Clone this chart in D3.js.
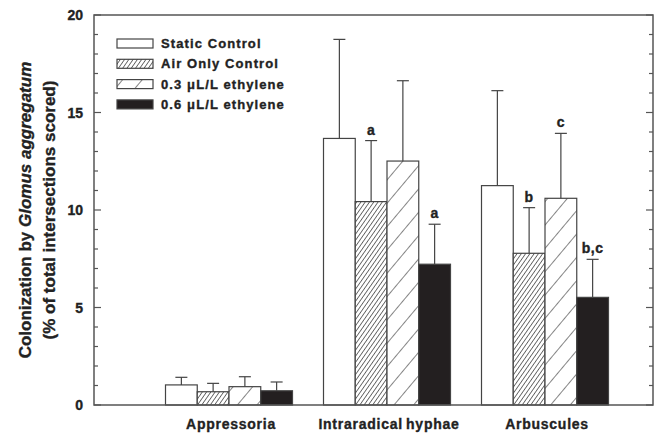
<!DOCTYPE html>
<html><head><meta charset="utf-8">
<script src="https://cdn.jsdelivr.net/npm/d3@7/dist/d3.min.js"></script>
<style>body{margin:0;background:#fff;} text{font-family:"Liberation Sans",Arial,sans-serif;font-weight:bold;fill:#222;stroke:#222;stroke-width:0.35px;}</style>
</head><body><svg id="c" width="656" height="434"></svg>
<script>
const categories = ["Appressoria", "Intraradical hyphae", "Arbuscules"];
const series = ["Static Control", "Air Only Control", "0.3 \u03bcL/L ethylene", "0.6 \u03bcL/L ethylene"];
const means = [
  [1.03, 0.68, 0.94, 0.73],
  [13.67, 10.43, 12.51, 7.22],
  [11.25, 7.78, 10.60, 5.52]
];
const errors = [
  [0.39, 0.43, 0.51, 0.45],
  [5.08, 3.13, 4.12, 2.05],
  [4.87, 2.34, 3.33, 1.95]
];
const letters = [
  ["", "", "", ""],
  ["", "a", "", "a"],
  ["", "b", "c", "b,c"]
];
const yTicks = [0, 5, 10, 15, 20];

const svg = d3.select("#c");
const L = 94, T = 15, R = 653, B = 405;
const W = R - L, H = B - T;
const g = svg.append("g").attr("transform", `translate(${L},${T})`);
const y = d3.scaleLinear().domain([0, 20]).range([H, 0]);
const x = d3.scalePoint().domain(categories).range([135, 451]);
const xb = d3.scaleBand().domain(series).range([-63.5, 63.5]);

const defs = svg.append("defs");
const p1 = defs.append("pattern").attr("id", "dense").attr("patternUnits", "userSpaceOnUse")
  .attr("width", 3.5).attr("height", 3.5).attr("patternTransform", "rotate(35)");
p1.append("rect").attr("width", 3.5).attr("height", 3.5).attr("fill", "#fff");
p1.append("line").attr("x1", 0).attr("y1", 0).attr("x2", 0).attr("y2", 3.5).attr("stroke", "#444").attr("stroke-width", 1.5);
const p2 = defs.append("pattern").attr("id", "sparse").attr("patternUnits", "userSpaceOnUse")
  .attr("width", 15).attr("height", 15).attr("patternTransform", "rotate(40)");
p2.append("rect").attr("width", 15).attr("height", 15).attr("fill", "#fff");
p2.append("line").attr("x1", 0).attr("y1", 0).attr("x2", 0).attr("y2", 15).attr("stroke", "#333").attr("stroke-width", 1.2);
const fills = ["#fff", "url(#dense)", "url(#sparse)", "#231f20"];

// y ticks left (inward) and right (inward)
const minor = d3.range(0, 21, 1);
minor.forEach(v => {
  const len = v % 5 === 0 ? 7 : 4;
  g.append("line").attr("x1", 0).attr("x2", len).attr("y1", y(v)).attr("y2", y(v)).attr("stroke", "#555").attr("stroke-width", 1.2);
  g.append("line").attr("x1", W).attr("x2", W - len).attr("y1", y(v)).attr("y2", y(v)).attr("stroke", "#555").attr("stroke-width", 1.2);
});
yTicks.forEach(v => {
  g.append("text").attr("x", -11).attr("y", y(v)).attr("dy", "0.36em").attr("text-anchor", "end")
    .attr("font-size", 14).text(v);
});

// bars
categories.forEach((c, ci) => {
  series.forEach((s, si) => {
    const bx = x(c) + xb(s);
    g.append("rect").attr("x", bx).attr("y", y(means[ci][si])).attr("width", xb.bandwidth())
      .attr("height", y(0) - y(means[ci][si])).attr("fill", fills[si]).attr("stroke", "#444").attr("stroke-width", 1.2);
    const cx = bx + xb.bandwidth() / 2;
    const top = means[ci][si] + errors[ci][si];
    g.append("line").attr("x1", cx).attr("x2", cx).attr("y1", y(means[ci][si])).attr("y2", y(top)).attr("stroke", "#444").attr("stroke-width", 1.2);
    g.append("line").attr("x1", cx - 6).attr("x2", cx + 6).attr("y1", y(top)).attr("y2", y(top)).attr("stroke", "#444").attr("stroke-width", 1.2);
    if (letters[ci][si]) {
      g.append("text").attr("x", cx).attr("y", y(top) - 6).attr("text-anchor", "middle").attr("font-size", 14)
        .attr("letter-spacing", 0.5).text(letters[ci][si]);
    }
  });
  g.append("text").attr("x", x(c) + 2).attr("y", H + 24).attr("text-anchor", "middle").attr("font-size", 14)
    .attr("letter-spacing", 0.75).attr("word-spacing", -1.5).text(c);
});

// frame
g.append("rect").attr("x", 0).attr("y", 0).attr("width", W).attr("height", H).attr("fill", "none").attr("stroke", "#555").attr("stroke-width", 1.5);

// legend
const lg = svg.append("g").attr("transform", "translate(117,39)");
series.forEach((s, i) => {
  lg.append("rect").attr("x", 0).attr("y", i * 20.3).attr("width", 36).attr("height", 9)
    .attr("fill", fills[i]).attr("stroke", "#444").attr("stroke-width", 1.2);
  lg.append("text").attr("x", 44).attr("y", i * 20.3 + 4.5).attr("dy", "0.36em").attr("font-size", 13)
    .attr("letter-spacing", 1.1).text(s);
});

// y title
const yt = svg.append("text").attr("transform", "translate(31,210) rotate(-90)").attr("text-anchor", "middle").attr("font-size", 17);
yt.append("tspan").text("Colonization by ");
yt.append("tspan").attr("font-style", "italic").text("Glomus aggregatum");
svg.append("text").attr("transform", "translate(55,210) rotate(-90)").attr("text-anchor", "middle").attr("font-size", 17)
  .text("(% of total intersections scored)");
</script></body></html>
